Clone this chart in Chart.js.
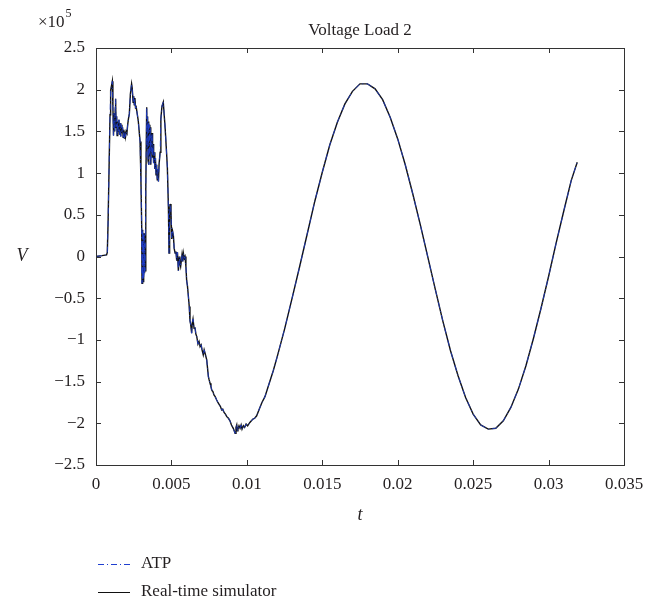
<!DOCTYPE html>
<html>
<head>
<meta charset="utf-8">
<script src="https://cdn.jsdelivr.net/npm/chart.js@4.4.0/dist/chart.umd.min.js"></script>
<style>
  html, body { margin: 0; padding: 0; background: #fff; }
  #wrap { width: 666px; height: 601px; position: relative; }
</style>
</head>
<body>
<div id="wrap"><canvas id="c" width="666" height="601"></canvas></div>
<script>
// ---- data (time in s, voltage in units of 1e5 V) ----
const timeS = [0, 0.0004, 0.0007, 0.00075, 0.0008, 0.00087, 0.00093, 0.00097, 0.00108, 0.00112, 0.00116, 0.0012, 0.00124, 0.00128, 0.0013, 0.00133, 0.00137, 0.0014, 0.00144, 0.00148, 0.00152, 0.00156, 0.0016, 0.00164, 0.00168, 0.00172, 0.00176, 0.0018, 0.00184, 0.00188, 0.00192, 0.00196, 0.002, 0.00205, 0.0021, 0.00215, 0.00221, 0.00228, 0.00236, 0.0024, 0.00246, 0.0025, 0.00254, 0.00258, 0.00262, 0.00265, 0.0028, 0.00292, 0.00298, 0.00303, 0.00305, 0.00307, 0.00309, 0.00311, 0.00313, 0.00315, 0.00317, 0.00319, 0.00321, 0.00323, 0.00325, 0.0033, 0.00336, 0.00339, 0.00342, 0.00345, 0.00348, 0.00351, 0.00354, 0.00357, 0.0036, 0.00363, 0.00366, 0.00369, 0.00372, 0.00375, 0.00378, 0.00382, 0.00386, 0.0039, 0.00394, 0.00398, 0.00402, 0.00406, 0.0041, 0.00414, 0.00418, 0.00425, 0.0043, 0.00437, 0.00446, 0.00452, 0.00458, 0.00466, 0.00473, 0.0048, 0.00484, 0.00488, 0.00491, 0.00497, 0.00502, 0.00508, 0.00513, 0.00518, 0.00524, 0.0053, 0.00535, 0.0054, 0.00546, 0.00552, 0.00556, 0.00561, 0.0057, 0.00575, 0.00579, 0.00585, 0.0059, 0.00596, 0.00601, 0.00606, 0.00612, 0.00618, 0.00623, 0.00628, 0.00634, 0.00638, 0.00643, 0.0065, 0.00656, 0.00662, 0.00668, 0.00676, 0.00683, 0.0069, 0.00697, 0.00703, 0.00711, 0.00717, 0.00723, 0.00734, 0.0074, 0.00745, 0.0075, 0.00756, 0.00762, 0.00767, 0.00775, 0.00782, 0.0079, 0.008, 0.00808, 0.00815, 0.00825, 0.00833, 0.0084, 0.00849, 0.00858, 0.00867, 0.00878, 0.00888, 0.00898, 0.0091, 0.00916, 0.00922, 0.00928, 0.00933, 0.00937, 0.00941, 0.00948, 0.00955, 0.00962, 0.00968, 0.00977, 0.00985, 0.00995, 0.01005, 0.0102, 0.0104, 0.01052, 0.01065, 0.0108, 0.011, 0.0112, 0.0115, 0.01175, 0.012, 0.0125, 0.013, 0.0135, 0.014, 0.0145, 0.015, 0.0155, 0.016, 0.0165, 0.017, 0.0175, 0.018, 0.0185, 0.019, 0.0195, 0.02, 0.0205, 0.021, 0.0215, 0.022, 0.0225, 0.023, 0.0235, 0.024, 0.0245, 0.025, 0.0255, 0.026, 0.0265, 0.027, 0.0275, 0.028, 0.0285, 0.029, 0.0295, 0.03, 0.0305, 0.031, 0.0315, 0.0319];

const realTimeV = [0, 0.01, 0.02, 0.05, 0.4, 1.1, 1.7, 1.99, 2.10, 1.80, 1.45, 1.72, 1.50, 1.78, 1.89, 1.55, 1.68, 1.45, 1.62, 1.50, 1.64, 1.46, 1.60, 1.44, 1.58, 1.48, 1.55, 1.43, 1.52, 1.42, 1.50, 1.44, 1.50, 1.48, 1.58, 1.65, 1.71, 1.95, 2.07, 2.02, 1.85, 1.92, 1.82, 1.90, 1.78, 1.81, 1.63, 1.38, 0.9, 0.35, -0.32, 0.3, -0.28, 0.32, -0.3, 0.25, -0.25, 0.28, -0.2, 0.15, -0.17, 0.8, 1.79, 1.3, 1.68, 1.15, 1.62, 1.1, 1.58, 1.2, 1.55, 1.1, 1.45, 1.25, 1.48, 1.18, 1.35, 1.12, 1.25, 1.05, 1.18, 0.98, 1.10, 0.92, 1.05, 0.90, 1.10, 1.25, 1.65, 1.80, 1.85, 1.70, 1.55, 1.30, 1.07, 0.59, 0.04, 0.50, 0.63, 0.54, 0.21, 0.30, 0.25, 0.10, 0.04, 0.06, -0.05, 0.05, -0.17, 0.0, -0.08, -0.12, 0.02, -0.06, 0.04, -0.02, 0.0, -0.12, -0.29, -0.35, -0.47, -0.60, -0.77, -0.82, -0.92, -0.80, -0.75, -0.86, -0.85, -0.93, -0.96, -1.05, -1.02, -1.08, -1.06, -1.12, -1.18, -1.12, -1.16, -1.24, -1.35, -1.44, -1.48, -1.52, -1.56, -1.60, -1.62, -1.66, -1.68, -1.72, -1.75, -1.77, -1.80, -1.84, -1.83, -1.87, -1.89, -1.92, -1.94, -1.97, -2.02, -2.06, -2.09, -2.12, -2.05, -2.02, -2.09, -2.07, -2.03, -2.06, -2.02, -2.07, -2.03, -2.05, -2.01, -2.03, -1.99, -1.95, -1.94, -1.91, -1.84, -1.75, -1.68, -1.51, -1.37, -1.21, -0.87, -0.50, -0.12, 0.27, 0.66, 1.01, 1.34, 1.61, 1.83, 1.98, 2.07, 2.07, 2.01, 1.88, 1.67, 1.41, 1.10, 0.75, 0.38, -0.01, -0.40, -0.78, -1.13, -1.43, -1.69, -1.89, -2.02, -2.07, -2.06, -1.97, -1.81, -1.59, -1.31, -0.98, -0.62, -0.24, 0.16, 0.54, 0.91, 1.13];

// ATP trace lies under the real-time trace; read as the same curve
const atpV = realTimeV.slice();

const xTickVals = [0, 0.005, 0.01, 0.015, 0.02, 0.025, 0.03, 0.035];
const xTickLabels = ['0', '0.005', '0.01', '0.015', '0.02', '0.025', '0.03', '0.035'];
const yTickVals = [2.5, 2, 1.5, 1, 0.5, 0, -0.5, -1, -1.5, -2, -2.5];
const yTickLabels = ['2.5', '2', '1.5', '1', '0.5', '0', '\u22120.5', '\u22121', '\u22121.5', '\u22122', '\u22122.5'];

const seriesNames = ['ATP', 'Real-time simulator'];

const FONT = '"Liberation Serif", "Times New Roman", serif';
const TXT = '#231f20';

const toPts = (ys) => timeS.map((t, i) => ({ x: t, y: ys[i] }));

const decor = {
  id: 'decor',
  afterDraw(chart) {
    const { ctx, chartArea: a, scales } = chart;
    const xs = scales.x, ys = scales.y;
    ctx.save();
    // frame
    ctx.strokeStyle = '#333';
    ctx.lineWidth = 1;
    ctx.setLineDash([]);
    ctx.strokeRect(Math.round(a.left) + 0.5, Math.round(a.top) + 0.5,
                   Math.round(a.right - a.left), Math.round(a.bottom - a.top));
    // inward ticks
    const tl = 5;
    ctx.beginPath();
    xTickVals.forEach(v => {
      const px = Math.round(xs.getPixelForValue(v)) + 0.5;
      ctx.moveTo(px, a.bottom); ctx.lineTo(px, a.bottom - tl);
      ctx.moveTo(px, a.top); ctx.lineTo(px, a.top + tl);
    });
    yTickVals.forEach(v => {
      const py = Math.round(ys.getPixelForValue(v)) + 0.5;
      ctx.moveTo(a.left, py); ctx.lineTo(a.left + tl, py);
      ctx.moveTo(a.right, py); ctx.lineTo(a.right - tl, py);
    });
    ctx.stroke();

    ctx.fillStyle = TXT;
    // title
    ctx.font = '17px ' + FONT;
    ctx.textAlign = 'center';
    ctx.textBaseline = 'middle';
    ctx.fillText('Voltage Load 2', (a.left + a.right) / 2, 31);
    // exponent
    ctx.textAlign = 'left';
    ctx.textBaseline = 'alphabetic';
    ctx.font = '17px ' + FONT;
    ctx.fillText('\u00d710', 38, 27);
    const w = ctx.measureText('\u00d710').width;
    ctx.font = '12px ' + FONT;
    ctx.fillText('5', 38 + w + 1, 17);
    // axis titles
    ctx.font = 'italic 18px ' + FONT;
    ctx.textAlign = 'center';
    ctx.textBaseline = 'middle';
    ctx.fillText('V', 22, ys.getPixelForValue(0));
    ctx.fillText('t', (a.left + a.right) / 2, 515);
    // legend
    const ds = chart.data.datasets;
    const rows = [564, 592];
    ds.forEach((d, i) => {
      const y = rows[i] + 0.5;
      ctx.beginPath();
      ctx.strokeStyle = d.borderColor;
      ctx.lineWidth = 1;
      ctx.setLineDash(d.borderDash || []);
      ctx.moveTo(98, y); ctx.lineTo(130, y);
      ctx.stroke();
      ctx.setLineDash([]);
      ctx.fillStyle = TXT;
      ctx.font = '17px ' + FONT;
      ctx.textAlign = 'left';
      ctx.fillText(d.label, 141, rows[i]);
    });
    ctx.restore();
  }
};

new Chart(document.getElementById('c'), {
  type: 'scatter',
  data: {
    datasets: [
      { label: seriesNames[0], data: toPts(atpV), showLine: true, borderColor: '#1f3fd0',
        borderWidth: 0.8, borderDash: [6, 3, 1, 3], pointRadius: 0, tension: 0 },
      { label: seriesNames[1], data: toPts(realTimeV), showLine: true, borderColor: '#111',
        borderWidth: 1.4, pointRadius: 0, tension: 0 }
    ]
  },
  options: {
    responsive: false,
    animation: false,
    events: [],
    layout: { padding: { top: 48, right: 42, left: 0, bottom: 0 } },
    plugins: { legend: { display: false }, tooltip: { enabled: false }, title: { display: false } },
    scales: {
      x: {
        type: 'linear', min: 0, max: 0.035,
        afterBuildTicks: s => { s.ticks = xTickVals.map(v => ({ value: v })); },
        afterFit: s => { s.height = 136; },
        grid: { display: false, drawTicks: false },
        border: { display: false },
        ticks: {
          autoSkip: false, maxRotation: 0, padding: 9, color: TXT,
          font: { family: FONT, size: 17 },
          callback: (v, i) => xTickLabels[i]
        }
      },
      y: {
        type: 'linear', min: -2.5, max: 2.5,
        afterBuildTicks: s => { s.ticks = yTickVals.slice().reverse().map(v => ({ value: v })); },
        afterFit: s => { s.width = 96; },
        grid: { display: false, drawTicks: false },
        border: { display: false },
        ticks: {
          autoSkip: false, padding: 11, color: TXT,
          font: { family: FONT, size: 17 },
          callback: (v, i, t) => yTickLabels[yTickVals.indexOf(t[i].value)]
        }
      }
    }
  },
  plugins: [decor]
});
</script>
</body>
</html>
